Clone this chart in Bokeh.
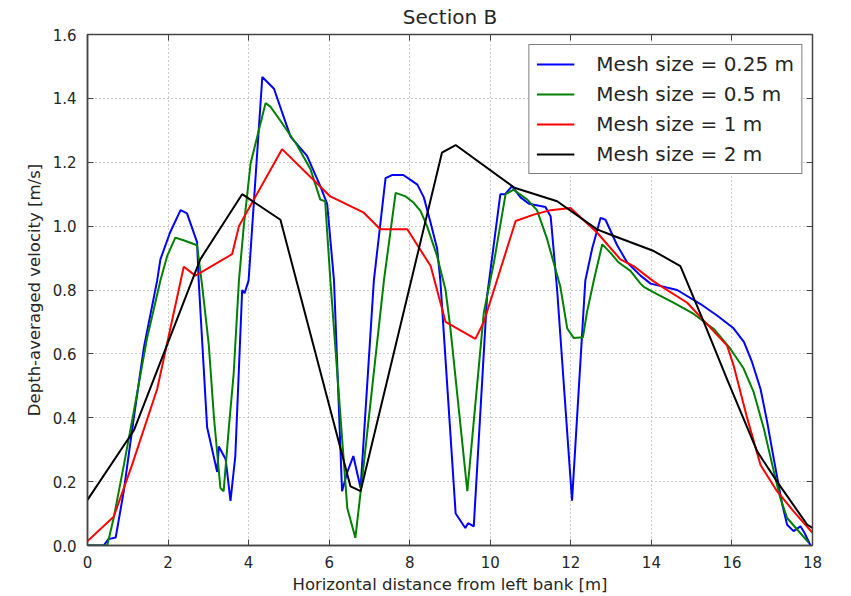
from bokeh.plotting import figure
from bokeh.models import Range1d, LinearAxis, SingleIntervalTicker, PrintfTickFormatter, Legend, LegendItem
from bokeh.embed import file_html
from bokeh.resources import INLINE

# Mesh size = 0.25 m
x_025 = [0.0, 0.4, 0.52, 0.7, 0.9, 1.15, 1.4, 1.73, 1.81, 2.05, 2.31, 2.47, 2.72, 2.76, 2.97, 3.22, 3.26, 3.43,
         3.55, 3.67, 3.84, 3.9, 4.0, 4.34, 4.63, 5.04, 5.45, 5.78, 5.95, 6.12, 6.32, 6.45, 6.6, 6.78, 7.11, 7.40,
         7.56, 7.84, 8.02, 8.19, 8.35, 8.52, 8.68, 8.76, 9.14, 9.38, 9.45, 9.59, 9.92, 10.25, 10.37, 10.54, 10.75,
         10.96, 11.37, 11.5, 11.66, 12.03, 12.36, 12.53, 12.74, 12.86, 13.15, 13.4, 13.73, 13.98, 14.64, 15.22,
         15.63, 16.04, 16.3, 16.5, 16.71, 16.87, 17.04, 17.25, 17.37, 17.53, 17.7, 17.8, 17.95]
v_025 = [0.0, 0.0, 0.02, 0.025, 0.17, 0.4, 0.62, 0.83, 0.896, 0.98, 1.05, 1.04, 0.95, 0.83, 0.37, 0.23, 0.31, 0.27,
         0.14, 0.28, 0.80, 0.79, 0.83, 1.467, 1.43, 1.28, 1.22, 1.125, 1.07, 0.83, 0.17, 0.23, 0.28, 0.18, 0.83, 1.15,
         1.16, 1.16, 1.145, 1.13, 1.09, 1.01, 0.93, 0.83, 0.10, 0.055, 0.07, 0.06, 0.78, 1.10, 1.10, 1.125, 1.09,
         1.07, 1.06, 1.03, 0.80, 0.14, 0.83, 0.93, 1.026, 1.02, 0.94, 0.886, 0.845, 0.82, 0.80, 0.756,
         0.72, 0.68, 0.637, 0.574, 0.49, 0.39, 0.27, 0.128, 0.065, 0.045, 0.06, 0.04, 0.0]

# Mesh size = 0.5 m
x_05 = [0.0, 0.49, 0.65, 0.9, 1.15, 1.48, 1.81, 1.98, 2.18, 2.4, 2.72, 2.85, 3.01, 3.14, 3.3, 3.38, 3.51, 3.63,
        3.76, 3.88, 4.05, 4.42, 4.54, 4.79, 5.2, 5.54, 5.78, 5.9, 6.03, 6.45, 6.65, 6.82, 7.36, 7.65, 7.9, 8.1,
        8.27, 8.43, 8.68, 8.89, 9.01, 9.43, 9.84, 10.0, 10.09, 10.38, 10.58, 10.92, 11.16, 11.41, 11.74, 11.91,
        12.07, 12.3, 12.4, 12.57, 12.78, 12.98, 13.19, 13.48, 13.73, 13.81, 14.14, 14.56, 15.05, 15.55, 15.96,
        16.29, 16.54, 16.79, 17.04, 17.2, 17.37, 17.62, 17.9]
v_05 = [0.0, 0.0, 0.086, 0.25, 0.42, 0.65, 0.83, 0.907, 0.964, 0.955, 0.94, 0.81, 0.63, 0.40, 0.18, 0.17, 0.37, 0.54,
        0.83, 1.0, 1.197, 1.385, 1.374, 1.33, 1.254, 1.177, 1.083, 1.078, 0.83, 0.117, 0.024, 0.21, 0.83, 1.104, 1.093,
        1.073, 1.047, 1.0, 0.906, 0.80, 0.68, 0.17, 0.73, 0.83, 0.886, 1.1, 1.114, 1.083, 1.05, 0.96, 0.81, 0.68,
        0.65, 0.652, 0.73, 0.83, 0.943, 0.917, 0.886, 0.86, 0.82, 0.81, 0.787, 0.76, 0.725, 0.678, 0.616,
        0.554, 0.48, 0.367, 0.232, 0.149, 0.086, 0.05, 0.01]

# Mesh size = 1 m
x_1 = [0.0, 0.65, 1.1, 1.73, 2.39, 2.68, 3.59, 3.76, 4.83, 6.03, 6.86, 7.27, 7.94, 8.52, 8.89, 9.63, 9.84, 10.63,
       11.08, 11.5, 11.99, 12.65, 13.23, 13.56, 13.98, 14.14, 14.89, 15.3, 15.88, 16.04, 16.38, 16.71, 17.12, 17.53, 18.0]
v_1 = [0.014, 0.09, 0.25, 0.49, 0.873, 0.845, 0.912, 1.0, 1.241, 1.093, 1.042, 0.99, 0.99, 0.875, 0.70, 0.647, 0.70,
       1.016, 1.036, 1.05, 1.057, 0.98, 0.896, 0.875, 0.834, 0.82, 0.76, 0.704, 0.626, 0.564, 0.398, 0.252, 0.17,
       0.107, 0.04]

# Mesh size = 2 m
x_2 = [0.0, 1.15, 2.8, 3.84, 4.79, 6.53, 6.78, 8.8, 9.14, 10.6, 11.66, 12.65, 13.07, 14.06, 14.72, 15.3, 15.88,
       16.63, 17.12, 17.87, 18.0]
v_2 = [0.143, 0.36, 0.896, 1.10, 1.02, 0.185, 0.17, 1.23, 1.254, 1.12, 1.078, 0.99, 0.969, 0.922, 0.875, 0.70, 0.52,
       0.294, 0.2, 0.065, 0.055]

series_labels = ["Mesh size = 0.25 m", "Mesh size = 0.5 m", "Mesh size = 1 m", "Mesh size = 2 m"]
series_colors = ["#0000ff", "#008000", "#ff0000", "#000000"]

FONT = "DejaVu Sans"
TXT = "#262626"
AX = "#444444"

p = figure(width=851, height=596, x_range=Range1d(0, 18), y_range=Range1d(0, 1.6),
           output_backend="svg", toolbar_location=None,
           min_border_left=87, min_border_right=39, min_border_top=34, min_border_bottom=48,
           title="Section B")
p.title.text_font = FONT
p.title.text_font_size = "20px"
p.title.text_font_style = "normal"
p.title.text_color = TXT
p.title.align = "center"
p.title.standoff = 4

p.outline_line_color = AX
p.outline_line_width = 1.5
p.background_fill_color = "white"
p.border_fill_color = "white"

for ax in (p.xaxis[0], p.yaxis[0]):
    ax.axis_line_color = AX
    ax.axis_line_width = 1.5
    ax.major_tick_in = 6
    ax.major_tick_out = 0
    ax.major_tick_line_color = AX
    ax.minor_tick_line_color = None
    ax.major_label_text_font = FONT
    ax.major_label_text_font_size = "15px"
    ax.major_label_text_color = TXT
    ax.axis_label_text_font = FONT
    ax.axis_label_text_font_size = "16.5px"
    ax.axis_label_text_font_style = "normal"
    ax.axis_label_text_color = TXT

p.xaxis.ticker = SingleIntervalTicker(interval=2)
p.yaxis.ticker = SingleIntervalTicker(interval=0.2)
p.yaxis.formatter = PrintfTickFormatter(format="%.1f")
p.xaxis.axis_label = "Horizontal distance from left bank [m]"
p.yaxis.axis_label = "Depth-averaged velocity [m/s]"
p.xaxis.major_label_standoff = 6
p.yaxis.major_label_standoff = 7
p.xaxis.axis_label_standoff = 4
p.yaxis.axis_label_standoff = 6

# mirrored inward ticks on the top and right edges, without labels
top_ax = LinearAxis(ticker=SingleIntervalTicker(interval=2), major_label_text_color=None,
                    major_label_text_font_size="10px",
                    major_tick_in=6, major_tick_out=0, major_label_standoff=0,
                    axis_line_color=AX, major_tick_line_color=AX, minor_tick_line_color=None)
right_ax = LinearAxis(ticker=SingleIntervalTicker(interval=0.2), major_label_text_color=None,
                      major_label_text_font_size="10px",
                      major_tick_in=6, major_tick_out=0, major_label_standoff=0,
                      axis_line_color=AX, major_tick_line_color=AX, minor_tick_line_color=None)
p.add_layout(top_ax, "above")
p.add_layout(right_ax, "right")

p.grid.grid_line_color = "#9a9a9a"
p.grid.grid_line_dash = "1 3"
p.grid.grid_line_width = 1

renderers = []
for xs, ys, col in zip([x_025, x_05, x_1, x_2], [v_025, v_05, v_1, v_2], series_colors):
    r = p.line(xs, ys, line_color=col, line_width=2)
    renderers.append(r)

legend = Legend(items=[LegendItem(label=lab, renderers=[r]) for lab, r in zip(series_labels, renderers)],
                location="top_right")
legend.label_text_font = FONT
legend.label_text_font_size = "20px"
legend.label_text_color = TXT
legend.border_line_color = "#000000"
legend.border_line_width = 1.5
legend.padding = 7
legend.spacing = 6
legend.label_height = 24
legend.glyph_height = 24
legend.glyph_width = 38
legend.label_standoff = 22
legend.margin = 10
legend.background_fill_alpha = 1
p.add_layout(legend, "center")

open("out.html", "w").write(file_html(p, INLINE))
